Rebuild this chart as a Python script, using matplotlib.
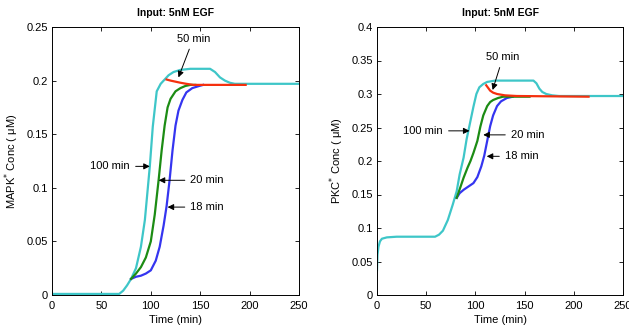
import matplotlib
matplotlib.use("Agg")
import matplotlib.pyplot as plt

plt.rcParams['font.family'] = ['Liberation Sans', 'DejaVu Sans']

# ---- Left panel: MAPK* ----
mapk_cyan_t = [0, 68, 72, 76, 80, 85, 90, 94, 97, 99, 102, 106, 110, 114, 118, 123, 130, 140, 160, 165, 170, 175, 180, 185, 190, 250]
mapk_cyan_y = [0.001, 0.001, 0.004, 0.009, 0.015, 0.025, 0.045, 0.07, 0.1, 0.12, 0.157, 0.19, 0.197, 0.201, 0.205, 0.208, 0.21, 0.211, 0.211, 0.208, 0.203, 0.2, 0.198, 0.197, 0.197, 0.197]
mapk_green_t = [80, 85, 90, 95, 100, 104, 108, 111, 114, 117, 120, 125, 130, 135, 140, 145]
mapk_green_y = [0.015, 0.02, 0.026, 0.035, 0.05, 0.075, 0.108, 0.135, 0.158, 0.175, 0.183, 0.19, 0.193, 0.195, 0.196, 0.196]
mapk_blue_t = [80, 85, 90, 95, 100, 105, 109, 113, 116, 119, 122, 125, 128, 132, 136, 142, 149, 153]
mapk_blue_y = [0.015, 0.017, 0.018, 0.02, 0.023, 0.032, 0.045, 0.065, 0.083, 0.107, 0.135, 0.158, 0.172, 0.182, 0.189, 0.193, 0.195, 0.196]
mapk_red_t = [116, 120, 125, 130, 136, 143, 160, 196]
mapk_red_y = [0.201, 0.2, 0.199, 0.198, 0.197, 0.196, 0.196, 0.196]

# ---- Right panel: PKC* ----
pkc_cyan_t = [0, 0.5, 1.5, 3, 5, 10, 20, 59, 63, 67, 72, 77, 81, 84, 88, 91, 95, 98, 101, 104, 108, 112, 120, 159, 162, 165, 168, 172, 178, 185, 250]
pkc_cyan_y = [0.037, 0.06, 0.072, 0.08, 0.084, 0.086, 0.087, 0.087, 0.09, 0.096, 0.112, 0.135, 0.155, 0.18, 0.205, 0.232, 0.26, 0.281, 0.3, 0.31, 0.315, 0.318, 0.32, 0.32, 0.316, 0.308, 0.303, 0.3, 0.298, 0.297, 0.297]
pkc_green_t = [81, 85, 88, 92, 95, 98, 102, 105, 108, 112, 115, 118, 123, 128, 140, 155]
pkc_green_y = [0.145, 0.162, 0.175, 0.19, 0.2, 0.212, 0.23, 0.251, 0.268, 0.282, 0.288, 0.291, 0.294, 0.296, 0.296, 0.296]
pkc_blue_t = [81, 84, 88, 93, 98, 102, 106, 109, 112, 115, 118, 122, 126, 132, 138]
pkc_blue_y = [0.145, 0.152, 0.157, 0.162, 0.167, 0.176, 0.192, 0.208, 0.23, 0.252, 0.268, 0.282, 0.289, 0.294, 0.296]
pkc_red_t = [111, 113, 115, 118, 122, 130, 142, 215]
pkc_red_y = [0.313, 0.309, 0.305, 0.302, 0.3, 0.298, 0.297, 0.296]

title = "Input: 5nM EGF"
xlabel = "Time (min)"
left_ylabel = "MAPK$^{*}$ Conc ( μM)"
right_ylabel = "PKC$^{*}$ Conc ( μM)"
left_yticks = [0, 0.05, 0.1, 0.15, 0.2, 0.25]
left_yticklabels = ["0", "0.05", "0.1", "0.15", "0.2", "0.25"]
right_yticks = [0, 0.05, 0.1, 0.15, 0.2, 0.25, 0.3, 0.35, 0.4]
right_yticklabels = ["0", "0.05", "0.1", "0.15", "0.2", "0.25", "0.3", "0.35", "0.4"]
xticks = [0, 50, 100, 150, 200, 250]

# annotations: (text, text_xy, arrow_tip)
left_notes = [
    ("50 min", (143, 0.239), (128, 0.203)),
    ("100 min", (59, 0.12), (99, 0.12)),
    ("20 min", (157, 0.107), (108, 0.107)),
    ("18 min", (157, 0.082), (117, 0.082)),
]
right_notes = [
    ("50 min", (128, 0.355), (117.5, 0.306)),
    ("100 min", (47, 0.245), (94, 0.245)),
    ("20 min", (153, 0.239), (108, 0.239)),
    ("18 min", (147, 0.207), (111.5, 0.207)),
]

C_CYAN = "#3EC6C8"
C_BLUE = "#3535F0"
C_GREEN = "#1C8C14"
C_RED = "#F5300E"

fig = plt.figure(figsize=(6.29, 3.29), dpi=100)
axL = fig.add_axes([52/629, 34/329, 247/629, 268/329])
axR = fig.add_axes([377/629, 34/329, 246/629, 268/329])

def style(ax, yticks, ylabels, ylim, ylabel):
    ax.set_xlim(0, 250)
    ax.set_ylim(*ylim)
    ax.set_xticks(xticks)
    ax.set_xticklabels([str(x) for x in xticks], fontsize=8)
    ax.set_yticks(yticks)
    ax.set_yticklabels(ylabels, fontsize=8)
    ax.tick_params(direction='in', length=3, width=0.6, top=True, right=True, pad=3)
    ax.tick_params(axis='x', pad=4)
    for s in ax.spines.values():
        s.set_linewidth(0.7)
    ax.set_title(title, fontsize=7.5, fontweight='bold', pad=8)
    ax.set_xlabel(xlabel, fontsize=8, labelpad=3)
    ax.set_ylabel(ylabel, fontsize=8, labelpad=4)

lw = 1.6
axL.plot(mapk_cyan_t, mapk_cyan_y, color=C_CYAN, lw=lw)
axL.plot(mapk_blue_t, mapk_blue_y, color=C_BLUE, lw=lw)
axL.plot(mapk_green_t, mapk_green_y, color=C_GREEN, lw=lw)
axL.plot(mapk_red_t, mapk_red_y, color=C_RED, lw=lw)
style(axL, left_yticks, left_yticklabels, (0, 0.25), left_ylabel)

axR.plot(pkc_cyan_t, pkc_cyan_y, color=C_CYAN, lw=lw)
axR.plot(pkc_blue_t, pkc_blue_y, color=C_BLUE, lw=lw)
axR.plot(pkc_green_t, pkc_green_y, color=C_GREEN, lw=lw)
axR.plot(pkc_red_t, pkc_red_y, color=C_RED, lw=lw)
style(axR, right_yticks, right_yticklabels, (0, 0.4), right_ylabel)

def annotate(ax, notes):
    for text, txy, tip in notes:
        ax.annotate(text, xy=tip, xytext=txy, fontsize=8, ha='center', va='center',
                    arrowprops=dict(arrowstyle='-|>', color='black', lw=0.7,
                                    mutation_scale=9, shrinkA=2, shrinkB=0))

annotate(axL, left_notes)
annotate(axR, right_notes)

fig.savefig("out.png", dpi=100)
